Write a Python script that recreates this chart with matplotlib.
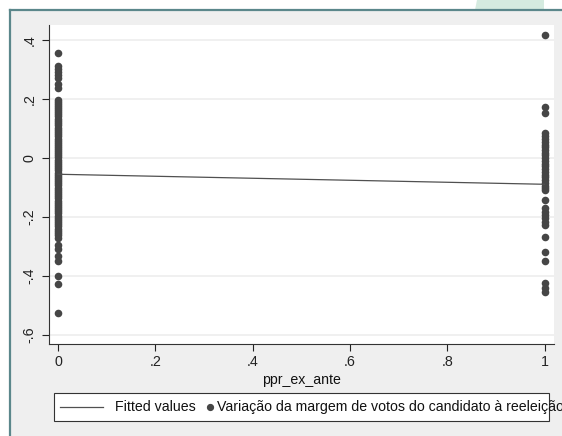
import numpy as np
import matplotlib
matplotlib.use('Agg')
import matplotlib.pyplot as plt
from matplotlib.patches import Rectangle, Polygon
from matplotlib.lines import Line2D

plt.rcParams['font.family'] = ['Liberation Sans', 'DejaVu Sans']

# data
y_x0 = [0.355, 0.312, 0.302, 0.293, 0.281, 0.270, 0.252, 0.238,
        0.197, 0.191, 0.184, 0.177, 0.170, 0.163, 0.156, 0.148, 0.141,
        0.133, 0.126, 0.118, 0.111, 0.103, 0.096, 0.088, 0.081, 0.074,
        0.066, 0.059, 0.052, 0.044, 0.037, 0.030, 0.023, 0.016, 0.009,
        0.002, -0.006, -0.013, -0.020, -0.028, -0.035, -0.042, -0.050,
        -0.057, -0.064, -0.071, -0.079, -0.086, -0.093, -0.101, -0.108,
        -0.115, -0.122, -0.130, -0.137, -0.145, -0.152, -0.159, -0.166,
        -0.174, -0.181, -0.188, -0.196, -0.203, -0.210, -0.218, -0.225,
        -0.232, -0.240, -0.247, -0.254, -0.262, -0.271,
        -0.295, -0.308, -0.331, -0.349, -0.399, -0.428, -0.526]
y_x1 = [0.417, 0.174, 0.152,
        0.084, 0.074, 0.064, 0.055, 0.045, 0.036, 0.027, 0.018, 0.009,
        0.000, -0.010, -0.019, -0.028, -0.038, -0.047, -0.056, -0.066,
        -0.075, -0.084, -0.094, -0.103, -0.108,
        -0.142, -0.171, -0.182, -0.194, -0.205, -0.216, -0.227,
        -0.267, -0.318, -0.349, -0.425, -0.440, -0.453]
fit_x = [0, 1]
fit_y = [-0.055, -0.089]

xticks = [0, 0.2, 0.4, 0.6, 0.8, 1]
xlabels = ['0', '.2', '.4', '.6', '.8', '1']
yticks = [-0.6, -0.4, -0.2, 0, 0.2, 0.4]
ylabels = ['-.6', '-.4', '-.2', '0', '.2', '.4']

W, H = 562, 436
fig = plt.figure(figsize=(W/100, H/100), dpi=100)
fig.patch.set_facecolor('white')

def fx(px): return px / W
def fy(py): return 1 - py / H

# page background pieces
fig.patches.append(Rectangle((fx(10), 0), 1 - fx(10), fy(10), transform=fig.transFigure,
                             facecolor='#efefef', edgecolor='none', zorder=-2))
fig.patches.append(Polygon([(fx(475), fy(10)), (fx(477), 1), (fx(544), 1), (fx(544), fy(10))],
                           closed=True, transform=fig.transFigure,
                           facecolor='#d5ebe0', edgecolor='none', zorder=-2))
fig.lines.append(Line2D([fx(10), 1], [fy(10), fy(10)], transform=fig.transFigure,
                        color='#5b878b', lw=1.6, zorder=-1))
fig.lines.append(Line2D([fx(10), fx(10)], [0, fy(10)], transform=fig.transFigure,
                        color='#5b878b', lw=1.6, zorder=-1))

ax = fig.add_axes([fx(49), fy(344), fx(554) - fx(49), fy(25) - fy(344)])
ax.set_zorder(1)
ax.set_facecolor('white')

ax.scatter(np.zeros(len(y_x0)), y_x0, s=30, color='#464646', zorder=3, linewidths=0)
ax.scatter(np.ones(len(y_x1)), y_x1, s=30, color='#464646', zorder=3, linewidths=0)
ax.plot(fit_x, fit_y, color='#505050', lw=0.9, zorder=4)

ax.set_xlim(-0.0185, 1.0195)
ax.set_ylim(-0.6305, 0.451)
ax.set_xticks(xticks)
ax.set_xticklabels(xlabels, fontsize=10.3)
ax.set_yticks(yticks)
ax.set_yticklabels(ylabels, fontsize=10.3, rotation=90, va='center')
ax.tick_params(axis='x', length=5, width=0.8, pad=3, colors='#222222')
ax.tick_params(axis='y', length=5, width=0.8, pad=4, colors='#222222')
ax.grid(axis='y', color='#efefef', lw=1.3)
ax.set_axisbelow(True)
for s in ['top', 'right']:
    ax.spines[s].set_visible(False)
for s in ['left', 'bottom']:
    ax.spines[s].set_color('#333333')
    ax.spines[s].set_linewidth(0.8)
ax.set_xlabel('ppr_ex_ante', fontsize=10.2, labelpad=3, color='#111111')

# legend box (text runs past the frame, as in the source)
fig.patches.append(Rectangle((fx(53.5), fy(420.5)), fx(548.5) - fx(53.5), fy(392.5) - fy(420.5),
                             transform=fig.transFigure, facecolor='white',
                             edgecolor='#333333', lw=0.8, zorder=1))
fig.lines.append(Line2D([fx(60), fx(103)], [fy(406.7), fy(406.7)], transform=fig.transFigure,
                        color='#505050', lw=0.9, zorder=2))
fig.lines.append(Line2D([fx(210)], [fy(406.7)], transform=fig.transFigure, marker='o',
                        markersize=4.2, color='#464646', lw=0, zorder=2))
fig.text(fx(115), fy(406.7), 'Fitted values', fontsize=10.2, va='center', color='#111111', zorder=3)
fig.text(fx(217), fy(406.7), 'Variação da margem de votos do candidato à reeleição',
         fontsize=10.2, va='center', color='#111111', zorder=3)

fig.savefig('out.png', dpi=100)
